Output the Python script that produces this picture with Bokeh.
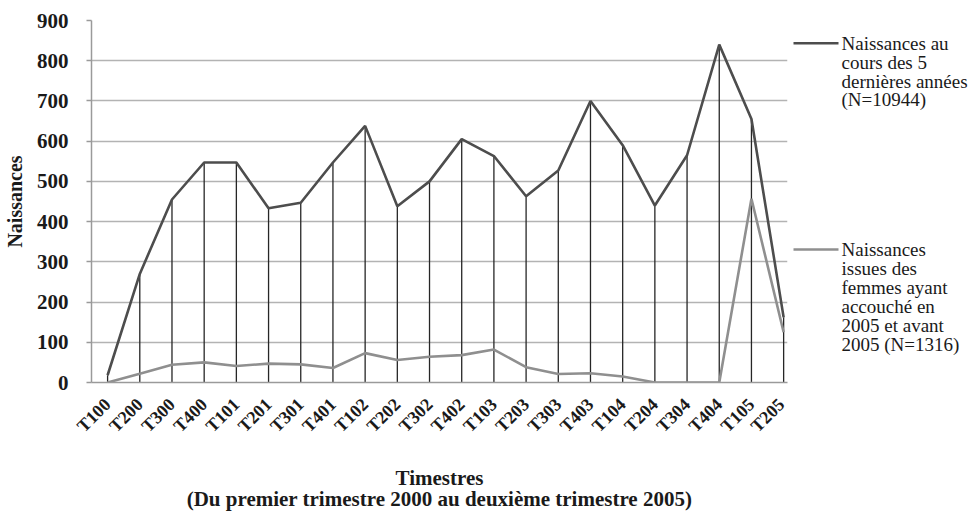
import math
from bokeh.plotting import figure
from bokeh.layouts import row
from bokeh.models import Range1d, FixedTicker, ColumnDataSource, Label
from bokeh.embed import file_html
from bokeh.resources import INLINE

categories = ["T100", "T200", "T300", "T400", "T101", "T201", "T301", "T401",
              "T102", "T202", "T302", "T402", "T103", "T203", "T303", "T403",
              "T104", "T204", "T304", "T404", "T105", "T205"]
naissances_5ans = [18, 270, 455, 547, 547, 433, 447, 547, 638, 438, 500, 605,
                   563, 463, 527, 700, 590, 440, 565, 840, 655, 162]
naissances_2005 = [0, 22, 44, 50, 41, 47, 45, 36, 73, 56, 64, 68,
                   82, 38, 21, 23, 15, 0, 0, 0, 457, 125]
y_ticks = [0, 100, 200, 300, 400, 500, 600, 700, 800, 900]
legend_1 = ["Naissances au", "cours des 5", "dernières années", "(N=10944)"]
legend_2 = ["Naissances", "issues des", "femmes ayant", "accouché en",
            "2005 et avant", "2005 (N=1316)"]

xs = list(range(len(categories)))
src = ColumnDataSource(dict(x=xs, up=naissances_5ans, low=naissances_2005,
                            base=[0] * len(xs)))

SERIF = "Liberation Serif"
C_UP = "#4d4d4d"
C_LOW = "#8f8f8f"
TXT = "#1a1a1a"

H = 519
W_MAIN = 788
W_LEG = 184
p = figure(width=W_MAIN, height=H, output_backend="svg", toolbar_location=None,
           x_range=Range1d(-0.5, 21.12), y_range=Range1d(0, 900),
           min_border_left=90, min_border_right=1, min_border_top=20,
           min_border_bottom=137)
p.outline_line_color = None

# drop lines
p.segment(x0="x", y0="base", x1="x", y1="up", source=src,
          line_color="#262626", line_width=1.3)
p.line("x", "low", source=src, line_color=C_LOW, line_width=2.6)
p.line("x", "up", source=src, line_color=C_UP, line_width=2.6)

# axes
p.xgrid.grid_line_color = None
p.ygrid.grid_line_color = "#b3b3b3"
p.ygrid.grid_line_width = 1.5
p.yaxis.ticker = FixedTicker(ticks=y_ticks)
p.xaxis.ticker = FixedTicker(ticks=xs)
p.xaxis.major_label_overrides = {i: c for i, c in zip(xs, categories)}
p.xaxis.major_label_orientation = math.pi / 4
p.xaxis.major_tick_line_color = None
p.xaxis.minor_tick_line_color = None
p.yaxis.minor_tick_line_color = None
p.yaxis.major_tick_out = 5
p.yaxis.major_tick_in = 0
p.yaxis.major_tick_line_color = "#9a9a9a"
p.yaxis.major_tick_line_width = 1.5
for ax in (p.xaxis, p.yaxis):
    ax.axis_line_color = "#9a9a9a"
    ax.axis_line_width = 1.5
    ax.major_label_text_font = SERIF
    ax.major_label_text_font_style = "bold"
    ax.major_label_text_color = TXT
    ax.axis_label_text_font = SERIF
    ax.axis_label_text_font_style = "bold"
    ax.axis_label_text_color = TXT
p.yaxis.major_label_text_font_size = "21px"
p.yaxis.major_label_standoff = 18
p.yaxis.axis_label = "Naissances"
p.yaxis.axis_label_text_font_size = "20px"
p.yaxis.axis_label_standoff = 8
p.xaxis.major_label_text_font_size = "18px"
p.xaxis.major_label_standoff = 13
p.xaxis.axis_label = "Timestres\n(Du premier trimestre 2000 au deuxième trimestre 2005)"
p.xaxis.axis_label_text_font_size = "21px"
p.xaxis.axis_label_text_line_height = 0.85
p.xaxis.axis_label_standoff = 20

# legend panel (its frame is aligned with the main frame: page y 20..382)
lg = figure(width=W_LEG, height=H, output_backend="svg", toolbar_location=None,
            x_range=Range1d(W_MAIN, W_MAIN + W_LEG), y_range=Range1d(382, 20),
            min_border=0, outline_line_color=None)
lg.axis.visible = False
lg.grid.visible = False

def legend_block(lines, y0, color):
    lg.segment(x0=[793], y0=[y0], x1=[838], y1=[y0], line_color=color, line_width=2.6)
    for k, t in enumerate(lines):
        lg.add_layout(Label(x=841, y=y0 + k * 18.9, text=t, text_font=SERIF,
                            text_font_size="19px", text_color=TXT,
                            text_baseline="middle"))

legend_block(legend_1, 42.7, C_UP)
legend_block(legend_2, 249, C_LOW)

open("out.html", "w").write(file_html(row(p, lg), INLINE))
